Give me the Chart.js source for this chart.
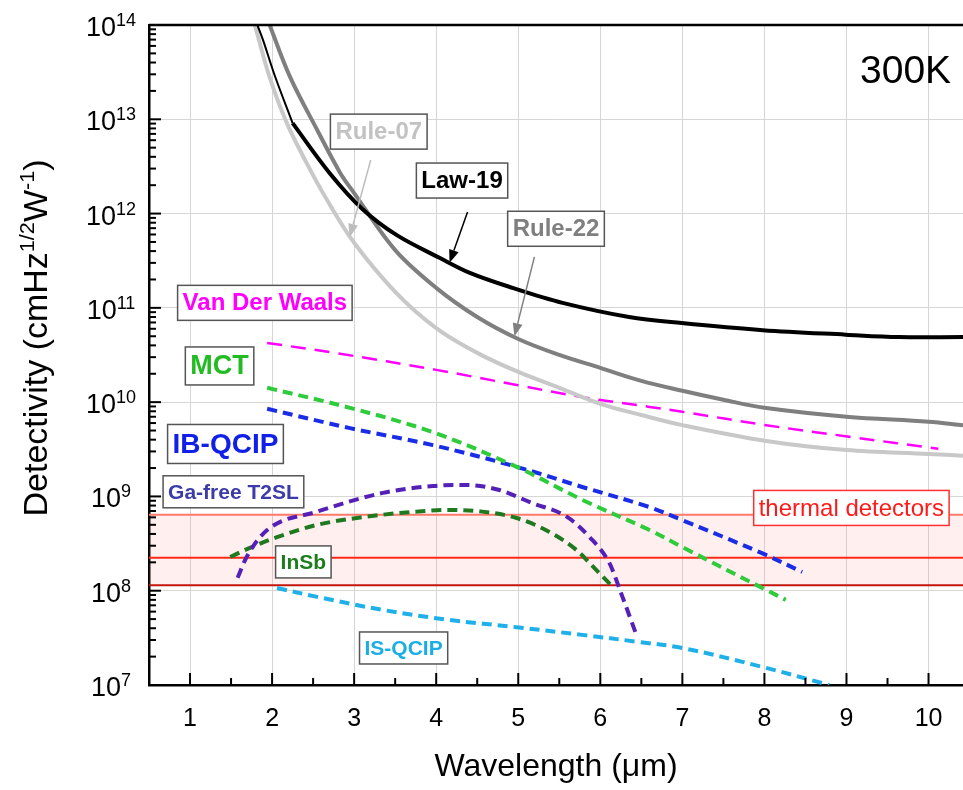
<!DOCTYPE html>
<html>
<head>
<meta charset="utf-8">
<script src="https://cdn.jsdelivr.net/npm/chart.js@4.4.0/dist/chart.umd.min.js"></script>
<style>
  html, body { margin: 0; padding: 0; background: #fff; }
</style>
</head>
<body>
<canvas id="canvas1" width="963" height="790"></canvas>
<script>
// wavelength in um, detectivity in cmHz^1/2 W^-1
var xTicks = [1, 2, 3, 4, 5, 6, 7, 8, 9, 10];
var yDecades = [1e7, 1e8, 1e9, 1e10, 1e11, 1e12, 1e13, 1e14];

var law19ThinWl = [1.82, 1.89, 2.03, 2.25];
var law19ThinD  = [1e14, 6.9e13, 2.95e13, 9.1e12];
var law19Wl = [2.25, 2.70, 3.10, 3.52, 4.04, 4.41, 4.93, 5.54, 6.35, 6.99, 7.98, 8.99, 9.64, 10.42];
var law19D  = [9.1e12, 2.7e12, 1.12e12, 5.9e11, 3.4e11, 2.35e11, 1.63e11, 1.13e11, 8.0e10, 6.9e10, 5.8e10, 5.2e10, 4.9e10, 4.9e10];

var rule22Wl = [1.97, 2.22, 2.55, 2.83, 3.0, 3.5, 4.0, 4.5, 5.0, 5.5, 6.0, 6.5, 7.0, 7.5, 8.0, 9.0, 10.0, 10.42];
var rule22D  = [1e14, 2.8e13, 7.7e12, 2.7e12, 1.65e12, 4.1e11, 1.63e11, 8.0e10, 4.68e10, 3.17e10, 2.31e10, 1.68e10, 1.32e10, 1.06e10, 8.7e9, 7.0e9, 6.2e9, 5.7e9];

var rule07Wl = [1.79, 1.97, 2.18, 2.42, 2.67, 3.0, 3.5, 4.0, 4.5, 5.0, 5.5, 6.0, 6.5, 7.0, 8.0, 9.0, 10.0, 10.42];
var rule07D  = [1e14, 2.8e13, 9.1e12, 3.45e12, 1.39e12, 4.9e11, 1.48e11, 6.1e10, 3.33e10, 2.09e10, 1.42e10, 9.6e9, 7.3e9, 5.7e9, 3.9e9, 3.1e9, 2.82e9, 2.7e9];

var vdwWl = [1.94, 2.79, 4.0, 4.98, 5.78, 6.60, 7.0, 8.02, 9.03, 10.12];
var vdwD  = [4.25e10, 3.3e10, 2.2e10, 1.52e10, 1.13e10, 8.9e9, 7.9e9, 5.7e9, 4.3e9, 3.2e9];

var mctWl = [1.94, 2.95, 3.96, 4.98, 5.78, 6.60, 7.0, 8.02, 8.26];
var mctD  = [1.42e10, 8.7e9, 4.8e9, 2.06e9, 9.2e8, 4.4e8, 2.9e8, 1.02e8, 8.0e7];

var ibWl = [1.94, 2.95, 3.96, 4.98, 5.78, 6.60, 7.0, 7.97, 8.46];
var ibD  = [8.5e9, 5.3e9, 3.5e9, 2.06e9, 1.26e9, 7.7e8, 5.6e8, 2.5e8, 1.58e8];

var t2slWl = [1.58, 1.69, 1.94, 2.55, 3.35, 3.96, 4.37, 4.77, 5.17, 5.59, 5.87, 6.11, 6.27, 6.44];
var t2slD  = [1.37e8, 2.28e8, 4.4e8, 6.9e8, 1.09e9, 1.29e9, 1.32e9, 1.17e9, 8.5e8, 6.1e8, 3.7e8, 1.97e8, 8.6e7, 3.4e7];

var insbWl = [1.49, 1.73, 2.06, 2.55, 3.15, 3.76, 4.16, 4.56, 4.98, 5.38, 5.71, 5.95, 6.15];
var insbD  = [2.28e8, 2.85e8, 3.7e8, 5.0e8, 6.1e8, 6.9e8, 7.2e8, 6.9e8, 5.9e8, 4.2e8, 2.7e8, 1.66e8, 1.1e8];

var isWl = [2.06, 2.55, 3.35, 4.16, 4.98, 5.78, 6.47, 7.0, 7.97, 8.79];
var isD  = [1.07e8, 8.6e7, 6.25e7, 4.9e7, 4.1e7, 3.4e7, 2.86e7, 2.47e7, 1.56e7, 1.0e7];

var thermalWl = [0.5, 10.42];
var thermalLow = 1.14e8, thermalMid = 2.23e8, thermalHigh = 6.4e8;

var FONT = '"Liberation Sans", Arial, sans-serif';

function pts(xs, ys) {
  var out = [];
  for (var i = 0; i < xs.length; i++) out.push({ x: xs[i], y: ys[i] });
  return out;
}
function flat(v) { return thermalWl.map(function (w) { return { x: w, y: v }; }); }

function curve(label, data, color, width, dash, mono) {
  return {
    label: label, data: data, borderColor: color, borderWidth: width,
    borderDash: dash || [], fill: false, pointRadius: 0,
    tension: 0.35, cubicInterpolationMode: mono ? 'monotone' : 'default'
  };
}

// text boxes and arrows, placed in data coordinates
var notes = [
  { text: 'Rule-07', wl: 3.30, d: 7.4e12, color: '#c2c2c2', size: 24 },
  { text: 'Law-19', wl: 4.315, d: 2.24e12, color: '#000000', size: 24 },
  { text: 'Rule-22', wl: 5.46, d: 6.9e11, color: '#7f7f7f', size: 24 },
  { text: 'Van Der Waals', wl: 1.912, d: 1.13e11, color: '#ff00ff', size: 24 },
  { text: 'MCT', wl: 1.36, d: 2.42e10, color: '#22bb22', size: 27 },
  { text: 'IB-QCIP', wl: 1.432, d: 3.6e9, color: '#1020e8', size: 28 },
  { text: 'Ga-free T2SL', wl: 1.529, d: 1.12e9, color: '#3c3ca8', size: 21 },
  { text: 'InSb', wl: 2.381, d: 2.02e8, color: '#1b7d1b', size: 21 },
  { text: 'IS-QCIP', wl: 3.603, d: 2.47e7, color: '#1aaee6', size: 21 }
];
var arrows = [
  { from: [3.202, 3.7e12], to: [2.946, 5.65e11], color: '#bdbdbd' },
  { from: [4.382, 1.04e12], to: [4.163, 3.0e11], color: '#000000' },
  { from: [5.197, 3.47e11], to: [4.954, 5.0e10], color: '#808080' }
];

function drawArrow(ctx, x1, y1, x2, y2, color) {
  var a = Math.atan2(y2 - y1, x2 - x1), L = 13, W = 5;
  var bx = x2 - L * Math.cos(a), by = y2 - L * Math.sin(a);
  ctx.strokeStyle = color; ctx.fillStyle = color; ctx.lineWidth = 1.5;
  ctx.beginPath(); ctx.moveTo(x1, y1); ctx.lineTo(bx, by); ctx.stroke();
  ctx.beginPath(); ctx.moveTo(x2, y2);
  ctx.lineTo(bx + W * Math.sin(a), by - W * Math.cos(a));
  ctx.lineTo(bx - W * Math.sin(a), by + W * Math.cos(a));
  ctx.closePath(); ctx.fill();
}

function drawBox(ctx, text, cx, cy, font, size, color, border) {
  ctx.font = font;
  var w = ctx.measureText(text).width + 10, h = size + 11;
  ctx.fillStyle = '#fff';
  ctx.fillRect(cx - w / 2, cy - h / 2, w, h);
  ctx.strokeStyle = border; ctx.lineWidth = 1.5;
  ctx.strokeRect(cx - w / 2, cy - h / 2, w, h);
  ctx.fillStyle = color; ctx.textAlign = 'center'; ctx.textBaseline = 'middle';
  ctx.fillText(text, cx, cy + 1);
}

var decor = {
  id: 'decor',
  afterDatasetsDraw: function (chart) {
    var ctx = chart.ctx, xs = chart.scales.x, ys = chart.scales.y;
    ctx.save();
    arrows.forEach(function (a) {
      drawArrow(ctx, xs.getPixelForValue(a.from[0]), ys.getPixelForValue(a.from[1]),
        xs.getPixelForValue(a.to[0]), ys.getPixelForValue(a.to[1]), a.color);
    });
    notes.forEach(function (n) {
      drawBox(ctx, n.text, xs.getPixelForValue(n.wl), ys.getPixelForValue(n.d),
        'bold ' + n.size + 'px ' + FONT, n.size, n.color, '#555');
    });
    drawBox(ctx, 'thermal detectors', xs.getPixelForValue(9.06), ys.getPixelForValue(7.55e8),
      '24px ' + FONT, 24, '#ff1a1a', '#ff3030');
    ctx.fillStyle = '#000'; ctx.font = '39px ' + FONT;
    ctx.textAlign = 'center'; ctx.textBaseline = 'middle';
    ctx.fillText('300K', xs.getPixelForValue(9.72), ys.getPixelForValue(3.18e13));
    ctx.restore();
  },
  afterDraw: function (chart) {
    var ctx = chart.ctx, xs = chart.scales.x, ys = chart.scales.y, ca = chart.chartArea;
    ctx.save();
    // top frame line
    ctx.strokeStyle = '#000'; ctx.lineWidth = 2.5;
    ctx.beginPath(); ctx.moveTo(ca.left, ca.top); ctx.lineTo(ca.right, ca.top); ctx.stroke();
    // inward tick marks
    ctx.lineWidth = 2;
    yDecades.forEach(function (d, i) {
      var y = ys.getPixelForValue(d);
      ctx.beginPath(); ctx.moveTo(ca.left, y); ctx.lineTo(ca.left + 12, y); ctx.stroke();
      if (i < yDecades.length - 1) {
        for (var k = 2; k <= 9; k++) {
          var ym = ys.getPixelForValue(d * k);
          ctx.beginPath(); ctx.moveTo(ca.left, ym); ctx.lineTo(ca.left + 7, ym); ctx.stroke();
        }
      }
    });
    xTicks.forEach(function (t) {
      var x = xs.getPixelForValue(t);
      ctx.beginPath(); ctx.moveTo(x, ca.bottom); ctx.lineTo(x, ca.bottom - 12); ctx.stroke();
      var xm = xs.getPixelForValue(t + 0.5);
      if (xm < ca.right) {
        ctx.beginPath(); ctx.moveTo(xm, ca.bottom); ctx.lineTo(xm, ca.bottom - 7); ctx.stroke();
      }
    });
    // tick labels
    ctx.fillStyle = '#000'; ctx.textBaseline = 'alphabetic';
    yDecades.forEach(function (d) {
      var y = ys.getPixelForValue(d), ex = String(Math.round(Math.log10(d)));
      ctx.font = '27px ' + FONT; var w1 = ctx.measureText('10').width;
      ctx.font = '18px ' + FONT; var w2 = ctx.measureText(ex).width;
      var x0 = 111 - (w1 + w2) / 2;
      ctx.textAlign = 'left';
      ctx.font = '27px ' + FONT; ctx.fillText('10', x0, y + 11);
      ctx.font = '18px ' + FONT; ctx.fillText(ex, x0 + w1, y + 1);
    });
    ctx.font = '25px ' + FONT; ctx.textAlign = 'center';
    xTicks.forEach(function (t) { ctx.fillText(String(t), xs.getPixelForValue(t), 726); });
    // axis titles
    ctx.font = '32px ' + FONT;
    ctx.fillText('Wavelength (\u03bcm)', (ca.left + ca.right) / 2, 776);
    var parts = [['Detectivity (cmHz', 0], ['1/2', 1], ['W', 0], ['-1', 1], [')', 0]];
    var total = 0;
    parts.forEach(function (p) {
      ctx.font = (p[1] ? '21px ' : '33px ') + FONT;
      p.push(ctx.measureText(p[0]).width); total += p[2];
    });
    ctx.translate(47, 338); ctx.rotate(-Math.PI / 2); ctx.scale(357 / total, 1);
    var px = -total / 2; ctx.textAlign = 'left';
    parts.forEach(function (p) {
      ctx.font = (p[1] ? '21px ' : '33px ') + FONT;
      ctx.fillText(p[0], px, p[1] ? -13 : 0);
      px += p[2];
    });
    ctx.restore();
  }
};

var band = { order: 10, pointRadius: 0, borderWidth: 2 };

new Chart(document.getElementById('canvas1'), {
  type: 'line',
  data: {
    datasets: [
      Object.assign({ label: 'thermal low', data: flat(thermalLow), borderColor: '#c3150c', fill: false }, band),
      Object.assign({ label: 'thermal mid', data: flat(thermalMid), borderColor: '#ff2a1a', fill: false }, band),
      Object.assign({ label: 'thermal high', data: flat(thermalHigh), borderColor: '#ff7a6a',
        fill: { target: 0 }, backgroundColor: 'rgba(255, 120, 120, 0.12)' }, band),
      curve('Law-19', pts(law19Wl, law19D), '#000000', 4),
      curve('Law-19 short', pts(law19ThinWl, law19ThinD), '#000000', 2),
      curve('Rule-22', pts(rule22Wl, rule22D), '#7f7f7f', 4),
      curve('Rule-07', pts(rule07Wl, rule07D), '#c8c8c8', 4),
      curve('Van Der Waals', pts(vdwWl, vdwD), '#ff00ff', 2.5, [15, 9]),
      curve('MCT', pts(mctWl, mctD), '#2ecc3a', 4, [10, 6]),
      curve('IB-QCIP', pts(ibWl, ibD), '#1a2de6', 4, [10, 6]),
      curve('Ga-free T2SL', pts(t2slWl, t2slD), '#5520b8', 4, [10, 6], true),
      curve('InSb', pts(insbWl, insbD), '#1f7a1f', 4, [10, 6], true),
      curve('IS-QCIP', pts(isWl, isD), '#1fb0ea', 4, [10, 6])
    ]
  },
  options: {
    responsive: false,
    animation: false,
    layout: { padding: { top: 25, left: 0, right: 0, bottom: 0 } },
    plugins: { legend: { display: false }, tooltip: { enabled: false } },
    scales: {
      x: {
        type: 'linear', min: 0.5, max: 10.42,
        afterBuildTicks: function (s) { s.ticks = xTicks.map(function (v) { return { value: v }; }); },
        afterFit: function (s) { s.height = 105; },
        ticks: { display: false },
        grid: { color: '#d6d6d6', lineWidth: 1, drawTicks: false },
        border: { display: true, color: '#000', width: 2.5 }
      },
      y: {
        type: 'logarithmic', min: 1e7, max: 1e14,
        afterBuildTicks: function (s) { s.ticks = yDecades.map(function (v) { return { value: v, major: true }; }); },
        afterFit: function (s) { s.width = 149; },
        ticks: { display: false },
        grid: { color: '#d6d6d6', lineWidth: 1, drawTicks: false },
        border: { display: true, color: '#000', width: 2.5 }
      }
    }
  },
  plugins: [decor]
});
</script>
</body>
</html>
